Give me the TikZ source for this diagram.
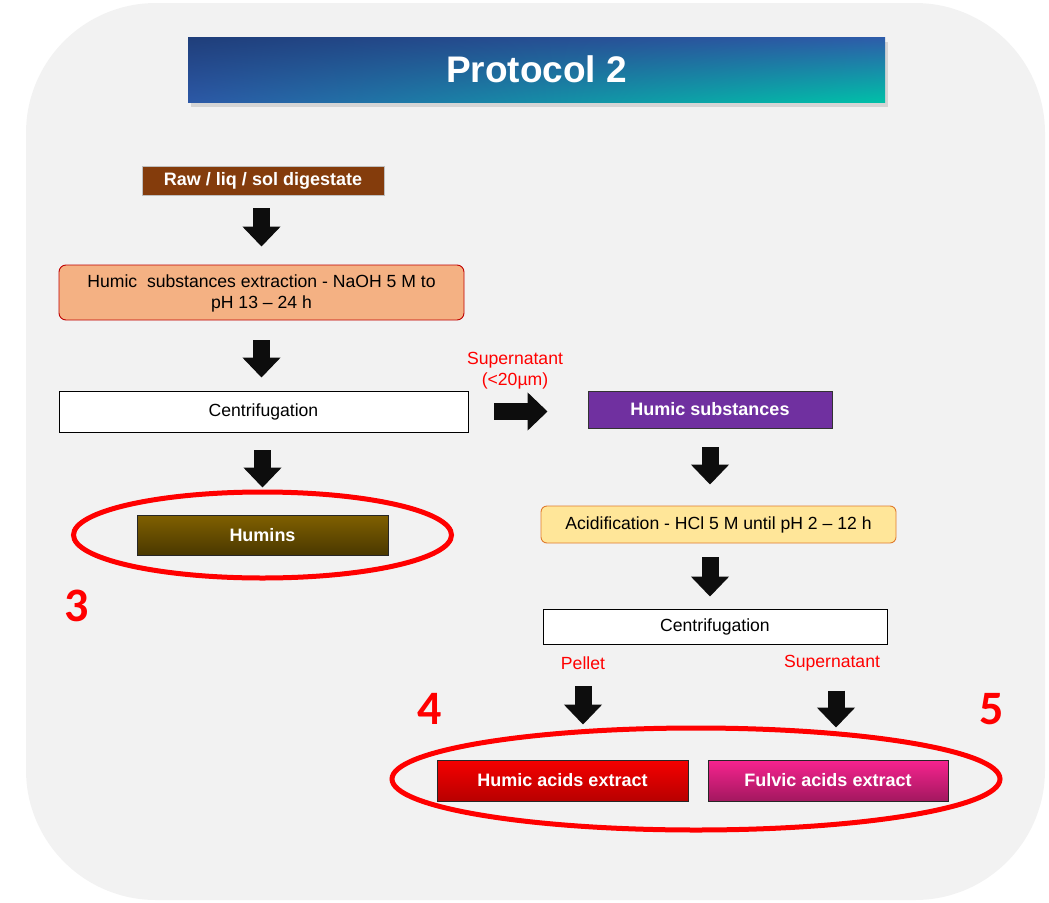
\documentclass[tikz,border=0pt]{standalone}
\usepackage{fontspec}
\setmainfont{Liberation Sans}
\newfontfamily\numfont{Carlito}
\usetikzlibrary{arrows.meta,shadows,shadings}

\definecolor{bggray}{HTML}{F2F2F2}
\definecolor{titleul}{HTML}{1F3E7A}
\definecolor{titleur}{HTML}{2E5CAA}
\definecolor{titlell}{HTML}{2C58A6}
\definecolor{titlelr}{HTML}{00C0A8}
\definecolor{rawbrown}{HTML}{843C0C}
\definecolor{extfill}{HTML}{F4B183}
\definecolor{extline}{HTML}{C00000}
\definecolor{huminstop}{HTML}{806000}
\definecolor{huminsbot}{HTML}{4A3800}
\definecolor{hspurple}{HTML}{7030A0}
\definecolor{acidfill}{HTML}{FFE699}
\definecolor{acidline}{HTML}{E07B2E}
\definecolor{hatop}{HTML}{F50000}
\definecolor{habot}{HTML}{B80000}
\definecolor{fatop}{HTML}{F7238F}
\definecolor{fabot}{HTML}{A3185F}
\definecolor{arrowblack}{HTML}{0D0D0D}

\begin{document}
\begin{tikzpicture}[x=1pt,y=-1pt,
	box/.style={draw, line width=0.9pt, inner sep=0pt, align=center, font=\fontsize{17.6}{21}\selectfont},
	darkbox/.style={box, draw=black!85, text=white, font=\bfseries\fontsize{18}{21}\selectfont},
	redlabel/.style={text=red, align=center, font=\fontsize{17.6}{21}\selectfont},
	bignum/.style={text=red, font=\numfont\bfseries\fontsize{48}{48}\selectfont},
	blockarrow/.style={draw=arrowblack, line width=17pt, -{Triangle[width=37pt,length=20pt]}},
	redring/.style={draw=red, line width=5pt}]
	\useasboundingbox (0,0) rectangle (1049,902);
	\fill[bggray, rounded corners=130pt] (26,3) rectangle (1045,900);

	\node[minimum width=697pt, minimum height=65pt, inner sep=0pt, text=white,
		upper left=titleul, upper right=titleur, lower left=titlell, lower right=titlelr,
		drop shadow={shadow xshift=3pt, shadow yshift=-5pt, opacity=0.25},
		font=\bfseries\fontsize{37}{37}\selectfont] (title) at (536.5,69.5) {Protocol 2};

	\node[darkbox, draw=black!25, fill=rawbrown, minimum width=242pt, minimum height=29pt] (raw) at (263,180.5) {Raw / liq / sol digestate};
	\node[box, draw=extline, fill=extfill, rounded corners=7pt, minimum width=405pt, minimum height=55pt, text depth=2pt] (ext) at (261.5,292.5) {Humic\ \ substances extraction - NaOH 5 M to\\pH 13 -- 24 h};
	\node[box, fill=white, minimum width=409pt, minimum height=41pt] (cen1) at (263.5,411.5) {Centrifugation};
	\node[darkbox, top color=huminstop, bottom color=huminsbot, minimum width=251pt, minimum height=40pt] (humins) at (262.5,535) {Humins};

	\node[redlabel] (sup1) at (515,371) {Supernatant\\(<20µm)};
	\node[darkbox, draw=black!80, fill=hspurple, minimum width=244pt, minimum height=37pt] (hs) at (710,409.5) {Humic substances};
	\node[box, draw=acidline, fill=acidfill, rounded corners=6pt, minimum width=355pt, minimum height=37pt] (acid) at (718.5,524.5) {Acidification - HCl 5 M until pH 2 -- 12 h};
	\node[box, fill=white, minimum width=344pt, minimum height=35pt] (cen2) at (715,626.5) {Centrifugation};

	\node[redlabel] (pellet) at (583,663) {Pellet};
	\node[redlabel] (sup2) at (832,663) {Supernatant};
	\node[darkbox, top color=hatop, bottom color=habot, minimum width=251pt, minimum height=41pt] (ha) at (562.5,780.5) {Humic acids extract};
	\node[darkbox, top color=fatop, bottom color=fabot, minimum width=240pt, minimum height=41pt] (fa) at (828,780.5) {Fulvic acids extract};

	\node[bignum] (n3) at (77,606) {3};
	\node[bignum] (n4) at (430,709) {4};
	\node[bignum] (n5) at (992,709) {5};

	\draw[blockarrow] ([yshift=-13pt]raw.south -| ext.north) -- ([yshift=18pt]ext.north);
	\draw[blockarrow] ([yshift=-20pt]ext.south) -- ([yshift=13pt]cen1.north -| ext.south);
	\draw[blockarrow] ([yshift=-18pt]cen1.south -| humins.north) -- ([yshift=27pt]humins.north);
	\draw[blockarrow] ([xshift=26pt]cen1.east) -- ([xshift=-40pt]hs.west |- cen1.east);
	\draw[blockarrow] ([yshift=-19pt]hs.south) -- ([yshift=21pt]acid.north -| hs.south);
	\draw[blockarrow] ([yshift=-14pt]acid.south -| hs.south) -- ([yshift=12pt]cen2.north -| hs.south);
	\draw[blockarrow] ([yshift=-13pt]pellet.south) -- ([yshift=35pt]ha.north -| pellet.south);
	\draw[blockarrow] ([xshift=4pt,yshift=-16pt]sup2.south) -- ([xshift=4pt,yshift=32pt]fa.north -| sup2.south);

	\draw[redring] (humins.center) ellipse [x radius=189pt, y radius=43pt];
	\coordinate (extracts) at (696,779);
	\draw[redring] (extracts) ellipse [x radius=304pt, y radius=51pt];
\end{tikzpicture}
\end{document}
